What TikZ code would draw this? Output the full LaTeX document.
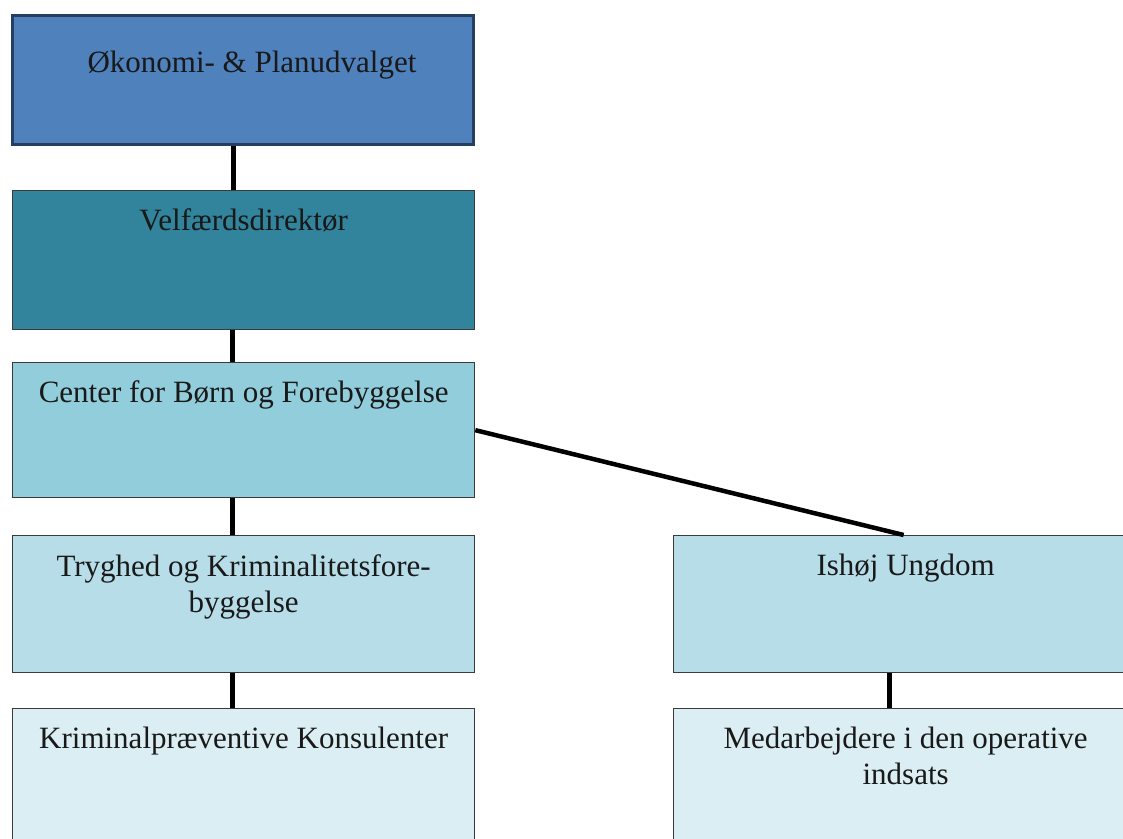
\documentclass[tikz,border=0pt]{standalone}
\usepackage{fontspec}
\setmainfont{Liberation Serif}
\definecolor{c1}{HTML}{4F81BD}
\definecolor{c1b}{HTML}{243F60}
\definecolor{c2}{HTML}{31849B}
\definecolor{c3}{HTML}{92CDDC}
\definecolor{c4}{HTML}{B6DDE8}
\definecolor{c5}{HTML}{DAEEF3}
\definecolor{bd}{HTML}{3A3A3A}
\tikzset{
  box/.style={draw=bd, line width=1.3pt, inner sep=0pt, anchor=north west},
  lbl/.style={font=\fontsize{31}{36}\selectfont, align=center, anchor=base, inner sep=0pt, text=black!90},
  conn/.style={line width=4.5pt, black}
}
\begin{document}
\begin{tikzpicture}[x=1pt,y=-1pt]
\useasboundingbox (0,0) rectangle (1123,838);
\clip (0,0) rectangle (1123,838);
\fill[white] (0,0) rectangle (1123,838);
% boxes
\node[box, fill=c1, draw=c1b, line width=3pt, minimum width=461pt, minimum height=129pt] (b1) at (11,14) {};
\node[box, fill=c2, minimum width=462pt, minimum height=139pt] (b2) at (12,190) {};
\node[box, fill=c3, minimum width=462pt, minimum height=135pt] (b3) at (12,362) {};
\node[box, fill=c4, minimum width=462pt, minimum height=137pt] (b4) at (12,535) {};
\node[box, fill=c5, minimum width=462pt, minimum height=152pt] (b5) at (12,708) {};
\node[box, fill=c4, minimum width=464pt, minimum height=137pt] (b6) at (673,535) {};
\node[box, fill=c5, minimum width=464pt, minimum height=152pt] (b7) at (673,708) {};
% labels
\node[lbl] (t1) at ([xshift=9pt,yshift=-58pt]b1.north) {Økonomi- \& Planudvalget};
\node[lbl] (t2) at ([yshift=-40pt]b2.north) {Velfærdsdirektør};
\node[lbl] (t3) at ([yshift=-40pt]b3.north) {Center for Børn og Forebyggelse};
\node[lbl, anchor=north] (t4) at ([yshift=-19pt]b4.north) {Tryghed og Kriminalitetsfore-\\byggelse};
\node[lbl] (t5) at ([yshift=-40pt]b5.north) {Kriminalpræventive Konsulenter};
\node[lbl] (t6) at ([yshift=-40pt]b6.north) {Ishøj Ungdom};
\node[lbl, anchor=north] (t7) at ([yshift=-19pt]b7.north) {Medarbejdere i den operative\\indsats};
% connectors
\draw[conn] ([xshift=-9.5pt]b1.south) -- ([xshift=-9.5pt]b1.south |- b2.north);
\draw[conn] ([xshift=-11pt]b2.south) -- ([xshift=-11pt]b3.north);
\draw[conn] ([xshift=-11pt]b3.south) -- ([xshift=-11pt]b4.north);
\draw[conn] ([xshift=-11pt]b4.south) -- ([xshift=-11pt]b5.north);
\draw[conn] (b3.east) -- ([xshift=-2pt]b6.north);
\draw[conn] ([xshift=-16pt]b6.south) -- ([xshift=-16pt]b7.north);
\end{tikzpicture}
\end{document}
